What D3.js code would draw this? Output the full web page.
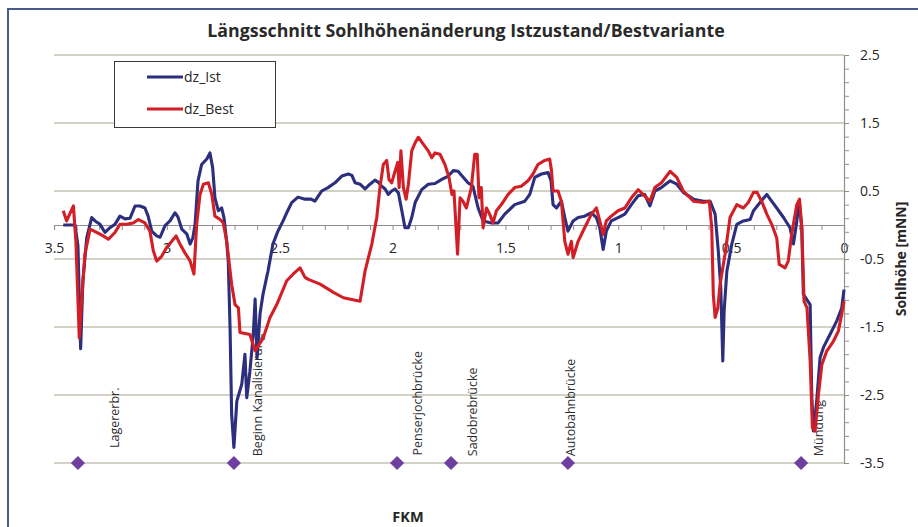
<!DOCTYPE html>
<html>
<head>
<meta charset="utf-8">
<script src="https://cdn.jsdelivr.net/npm/d3@7"></script>
<style>
  body { margin: 0; background: #fff; }
  svg { display: block; font-family: "Open Sans", sans-serif; }
</style>
</head>
<body>
<script>
// chart size
const w = 918;
const h = 527;

// Ist (blue) : km / dz
const istKm = [3.459, 3.407, 3.394, 3.382, 3.372, 3.355, 3.333, 3.318, 3.296, 3.274, 3.252, 3.230, 3.208, 3.185, 3.163, 3.141, 3.119, 3.097, 3.083, 3.067, 3.045, 3.030, 3.008, 2.986, 2.964, 2.951, 2.934, 2.912, 2.897, 2.885, 2.875, 2.862, 2.846, 2.823, 2.809, 2.797, 2.787, 2.772, 2.757, 2.747, 2.735, 2.728, 2.720, 2.713, 2.703, 2.690, 2.668, 2.654, 2.646, 2.632, 2.617, 2.609, 2.600, 2.587, 2.574, 2.558, 2.552, 2.530, 2.508, 2.485, 2.469, 2.447, 2.419, 2.388, 2.361, 2.344, 2.314, 2.286, 2.255, 2.225, 2.196, 2.180, 2.166, 2.144, 2.122, 2.100, 2.078, 2.064, 2.048, 2.033, 2.019, 2.004, 1.989, 1.974, 1.959, 1.945, 1.930, 1.915, 1.900, 1.871, 1.842, 1.812, 1.782, 1.753, 1.731, 1.710, 1.666, 1.644, 1.621, 1.599, 1.562, 1.533, 1.503, 1.459, 1.414, 1.392, 1.370, 1.341, 1.311, 1.298, 1.289, 1.274, 1.252, 1.237, 1.223, 1.200, 1.178, 1.149, 1.119, 1.097, 1.082, 1.067, 1.053, 1.031, 1.001, 0.971, 0.942, 0.912, 0.883, 0.860, 0.838, 0.809, 0.770, 0.741, 0.712, 0.667, 0.623, 0.593, 0.571, 0.557, 0.546, 0.537, 0.531, 0.519, 0.497, 0.475, 0.446, 0.416, 0.401, 0.372, 0.342, 0.327, 0.298, 0.268, 0.239, 0.224, 0.209, 0.199, 0.187, 0.180, 0.150, 0.143, 0.136, 0.121, 0.106, 0.091, 0.062, 0.032, 0.010, 0.000];
const istDz = [0.00, 0.00, -0.30, -1.82, -0.82, -0.19, 0.11, 0.06, 0.01, -0.11, -0.04, 0.01, 0.13, 0.09, 0.10, 0.28, 0.28, 0.25, 0.13, -0.09, -0.16, -0.18, -0.01, 0.06, 0.18, 0.12, -0.06, -0.13, -0.28, -0.19, 0.01, 0.65, 0.89, 0.97, 1.06, 0.84, 0.40, 0.21, 0.25, 0.11, -0.24, -0.53, -1.51, -2.78, -3.27, -2.59, -2.34, -1.90, -2.54, -2.15, -1.60, -1.09, -1.95, -1.30, -1.02, -0.77, -0.68, -0.28, -0.09, 0.06, 0.18, 0.33, 0.41, 0.38, 0.38, 0.35, 0.50, 0.55, 0.62, 0.72, 0.75, 0.73, 0.62, 0.60, 0.53, 0.60, 0.66, 0.63, 0.57, 0.53, 0.45, 0.50, 0.53, 0.47, 0.21, -0.04, -0.04, 0.11, 0.33, 0.52, 0.60, 0.61, 0.67, 0.72, 0.80, 0.79, 0.62, 0.57, 0.25, 0.06, 0.03, 0.03, 0.16, 0.30, 0.35, 0.45, 0.70, 0.75, 0.77, 0.65, 0.30, 0.25, 0.35, 0.11, -0.09, 0.06, 0.11, 0.13, 0.18, 0.11, -0.04, -0.36, -0.09, 0.06, 0.11, 0.16, 0.30, 0.43, 0.45, 0.28, 0.50, 0.55, 0.65, 0.60, 0.48, 0.38, 0.35, 0.35, 0.16, -0.38, -0.92, -2.00, -1.26, -0.68, -0.28, 0.01, 0.06, 0.08, 0.21, 0.33, 0.45, 0.38, 0.25, 0.11, -0.04, -0.28, 0.06, 0.35, -0.04, -1.02, -1.17, -2.49, -3.03, -2.59, -1.95, -1.80, -1.61, -1.41, -1.22, -0.95];

// Best (red) : km / dz
const bestKm = [3.459, 3.444, 3.432, 3.414, 3.403, 3.388, 3.377, 3.363, 3.340, 3.311, 3.282, 3.259, 3.230, 3.208, 3.178, 3.149, 3.126, 3.097, 3.075, 3.060, 3.045, 3.023, 3.001, 2.978, 2.959, 2.942, 2.920, 2.897, 2.880, 2.868, 2.853, 2.838, 2.816, 2.801, 2.787, 2.764, 2.750, 2.735, 2.713, 2.698, 2.683, 2.676, 2.632, 2.609, 2.573, 2.543, 2.513, 2.469, 2.440, 2.410, 2.388, 2.373, 2.321, 2.262, 2.218, 2.144, 2.122, 2.092, 2.070, 2.056, 2.041, 2.026, 2.016, 2.004, 1.989, 1.977, 1.971, 1.963, 1.952, 1.940, 1.930, 1.915, 1.900, 1.886, 1.864, 1.842, 1.826, 1.812, 1.790, 1.768, 1.750, 1.737, 1.728, 1.712, 1.701, 1.688, 1.673, 1.651, 1.636, 1.625, 1.617, 1.607, 1.599, 1.584, 1.570, 1.555, 1.540, 1.518, 1.488, 1.459, 1.430, 1.400, 1.378, 1.356, 1.326, 1.304, 1.296, 1.289, 1.267, 1.252, 1.237, 1.223, 1.208, 1.200, 1.178, 1.149, 1.119, 1.097, 1.082, 1.067, 1.053, 1.031, 1.001, 0.971, 0.942, 0.912, 0.890, 0.860, 0.838, 0.809, 0.770, 0.741, 0.712, 0.667, 0.623, 0.597, 0.586, 0.579, 0.571, 0.559, 0.549, 0.527, 0.505, 0.475, 0.446, 0.424, 0.401, 0.385, 0.365, 0.342, 0.320, 0.298, 0.287, 0.261, 0.247, 0.232, 0.209, 0.197, 0.187, 0.177, 0.164, 0.150, 0.140, 0.128, 0.113, 0.098, 0.076, 0.047, 0.025, 0.010, 0.000];
const bestDz = [0.21, 0.06, 0.15, 0.28, -0.24, -1.66, -1.07, -0.43, -0.06, -0.11, -0.16, -0.21, -0.11, 0.01, 0.01, 0.03, 0.08, 0.03, -0.09, -0.38, -0.53, -0.46, -0.33, -0.24, -0.16, -0.28, -0.41, -0.53, -0.72, 0.01, 0.45, 0.60, 0.62, 0.45, 0.13, 0.08, 0.03, -0.24, -0.87, -1.17, -1.22, -1.58, -1.61, -1.85, -1.66, -1.36, -1.17, -0.82, -0.72, -0.63, -0.77, -0.80, -0.87, -0.99, -1.07, -1.12, -0.68, -0.28, 0.11, 0.55, 0.89, 0.95, 0.67, 0.62, 0.79, 0.92, 0.55, 1.09, 0.55, 0.38, 0.60, 1.09, 1.21, 1.29, 1.19, 1.09, 0.99, 1.06, 1.04, 0.89, 0.70, 0.45, 0.50, -0.43, 0.40, 0.35, 0.25, 0.55, 1.04, 1.04, 0.40, 0.55, -0.04, 0.25, 0.16, 0.03, 0.21, 0.30, 0.45, 0.55, 0.57, 0.65, 0.75, 0.89, 0.95, 0.97, 0.80, 0.50, 0.50, 0.35, -0.24, -0.43, -0.24, -0.48, -0.24, -0.04, 0.16, 0.25, 0.06, -0.14, 0.06, 0.13, 0.21, 0.25, 0.40, 0.52, 0.45, 0.35, 0.55, 0.62, 0.79, 0.70, 0.50, 0.35, 0.33, 0.35, -0.04, -1.02, -1.36, -1.22, -0.87, -0.43, 0.11, 0.30, 0.25, 0.33, 0.48, 0.48, 0.35, 0.16, 0.01, -0.19, -0.58, -0.63, -0.53, -0.14, 0.30, 0.38, -0.04, -1.12, -1.22, -2.00, -2.98, -3.03, -2.49, -2.05, -1.85, -1.71, -1.56, -1.31, -1.12];

// landmarks
const markNames = ["Lagererbr.", "Beginn Kanalisierung", "Penserjochbrücke", "Sadobrebrücke", "Autobahnbrücke", "Mündung"];
const markKm = [3.394, 2.703, 1.980, 1.741, 1.223, 0.190];
const markDz = [-3.5, -3.5, -3.5, -3.5, -3.5, -3.5];
const labelKm = [3.230, 2.596, 1.890, 1.644, 1.209, 0.111];
const labelDz = [-3.28, -3.40, -3.39, -3.40, -3.40, -3.40];

// axes
const xLabels = [3.5, 3, 2.5, 2, 1.5, 1, 0.5, 0];
const yLabels = [2.5, 1.5, 0.5, -0.5, -1.5, -2.5, -3.5];

const seriesNames = ["dz_Ist", "dz_Best"];
const seriesColors = ["#2b2f7e", "#d21f26"];

let svg = d3.select("body")
            .append("svg")
            .attr("width", w)
            .attr("height", h);

// outer chart frame
svg.append("rect")
    .attr("x", 8).attr("y", 9)
    .attr("width", w).attr("height", h)
    .attr("fill", "none")
    .attr("stroke", "#4b5a8c")
    .attr("stroke-width", 2);

let x = d3.scaleLinear().domain([3.5, 0]).range([54, 844]);
let y = d3.scaleLinear().domain([2.5, -3.5]).range([55, 463]);

// title
svg.append("text")
    .attr("x", 466).attr("y", 37)
    .attr("text-anchor", "middle")
    .attr("font-size", 17.8)
    .attr("font-weight", "bold")
    .attr("fill", "#2a2a2a")
    .text("Längsschnitt Sohlhöhenänderung Istzustand/Bestvariante");

// horizontal grid
svg.append("g")
    .selectAll("line")
    .data(yLabels)
    .enter()
    .append("line")
    .attr("x1", x(3.5)).attr("x2", x(0))
    .attr("y1", d => y(d)).attr("y2", d => y(d))
    .attr("stroke", "#a9a48e")
    .attr("stroke-width", 1.2);

// x axis at dz = 0 (minor ticks every 0.1)
let xMinor = svg.append("g")
    .attr("transform", "translate(0," + y(0) + ")")
    .call(d3.axisBottom(x).tickValues(d3.range(0, 3.55, 0.1)).tickSize(5).tickFormat(""));
xMinor.select(".domain").attr("stroke", "#8f8f8f").attr("stroke-width", 1.2);
xMinor.selectAll(".tick line").attr("stroke", "#8f8f8f");

let xLab = svg.append("g")
    .attr("transform", "translate(0," + y(0) + ")")
    .call(d3.axisBottom(x).tickValues(xLabels).tickSize(0).tickPadding(18).tickFormat(d => String(d)));
xLab.select(".domain").remove();
xLab.selectAll("text")
    .attr("font-family", "Open Sans")
    .attr("font-size", 14)
    .attr("fill", "#262626");

// right y axis
let yMinor = svg.append("g")
    .attr("transform", "translate(" + x(0) + ",0)")
    .call(d3.axisRight(y).tickValues(d3.range(-3.5, 2.55, 0.2)).tickSize(5).tickFormat(""));
yMinor.select(".domain").attr("stroke", "#8f8f8f").attr("stroke-width", 1.2);
yMinor.selectAll(".tick line").attr("stroke", "#8f8f8f");

let yLab = svg.append("g")
    .attr("transform", "translate(" + x(0) + ",0)")
    .call(d3.axisRight(y).tickValues(yLabels).tickSize(5).tickPadding(11).tickFormat(d => String(d)));
yLab.select(".domain").remove();
yLab.selectAll(".tick line").attr("stroke", "#8f8f8f");
yLab.selectAll("text")
    .attr("font-family", "Open Sans")
    .attr("font-size", 14)
    .attr("fill", "#262626");

// axis titles
svg.append("text")
    .attr("transform", "translate(906," + y(-0.5) + ") rotate(-90)")
    .attr("text-anchor", "middle")
    .attr("font-size", 14)
    .attr("font-weight", "bold")
    .attr("fill", "#262626")
    .text("Sohlhöhe [mNN]");

svg.append("text")
    .attr("x", 408).attr("y", 522)
    .attr("text-anchor", "middle")
    .attr("font-size", 14.5)
    .attr("font-weight", "bold")
    .attr("fill", "#262626")
    .text("FKM");

// landmark labels (under the lines)
svg.append("g")
    .selectAll("text")
    .data(markNames)
    .enter()
    .append("text")
    .attr("transform", (d, i) => "translate(" + x(labelKm[i]) + "," + y(labelDz[i]) + ") rotate(-90)")
    .attr("dy", "0.35em")
    .attr("font-size", 12.5)
    .attr("fill", "#2e2e2e")
    .text(d => d);

// series
const seriesData = [
    istKm.map((k, i) => ({km: k, dz: istDz[i]})),
    bestKm.map((k, i) => ({km: k, dz: bestDz[i]}))
];
let line = d3.line().x(d => x(d.km)).y(d => y(d.dz));

svg.append("g")
    .selectAll("path")
    .data(seriesData)
    .enter()
    .append("path")
    .attr("d", line)
    .attr("fill", "none")
    .attr("stroke", (d, i) => seriesColors[i])
    .attr("stroke-width", 3.1)
    .attr("stroke-linejoin", "round");

// landmark markers
svg.append("g")
    .selectAll("path")
    .data(markKm)
    .enter()
    .append("path")
    .attr("transform", (d, i) => "translate(" + x(d) + "," + y(markDz[i]) + ")")
    .attr("d", d3.symbol(d3.symbolDiamond2, 128))
    .attr("fill", "#6e3f9e");

// legend
let legend = svg.append("g");
legend.append("rect")
    .attr("x", 114.5).attr("y", 61.5)
    .attr("width", 161).attr("height", 66)
    .attr("fill", "#fff")
    .attr("stroke", "#3a3a3a")
    .attr("stroke-width", 1);
seriesNames.forEach((name, i) => {
    legend.append("line")
        .attr("x1", 147).attr("x2", 183)
        .attr("y1", 77 + i * 32).attr("y2", 77 + i * 32)
        .attr("stroke", seriesColors[i])
        .attr("stroke-width", 3.1);
    legend.append("text")
        .attr("x", 184).attr("y", 77 + i * 32)
        .attr("dy", "0.35em")
        .attr("font-size", 14)
        .attr("fill", "#262626")
        .text(name);
});
</script>
</body>
</html>
